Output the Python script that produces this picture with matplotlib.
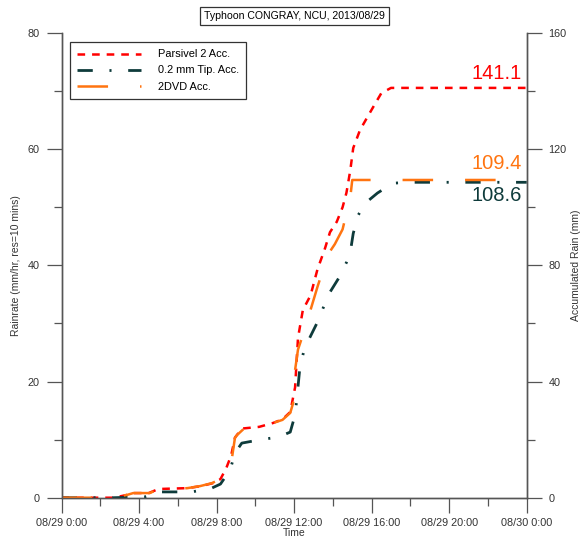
import matplotlib
matplotlib.use("Agg")
import matplotlib.pyplot as plt
from matplotlib.ticker import MultipleLocator, FixedLocator

plt.rcParams["font.family"] = ["Liberation Sans", "DejaVu Sans"]
plt.rcParams["lines.scale_dashes"] = False

# accumulated rain (mm) vs hour of 2013/08/29
parsivel_hr = [0, 2.7, 3.4, 3.7, 4.5, 5.0, 6.5, 7.2, 7.8, 8.2, 8.5, 8.75, 8.95, 9.3,
               10.2, 10.9, 11.4, 11.8, 12.05, 12.2, 12.45, 12.85, 13.2, 13.6, 13.85,
               14.2, 14.5, 14.7, 14.9, 15.05, 15.4, 15.75, 16.2, 16.5, 17.0, 24.0]
parsivel_mm = [0, 0, 1.0, 1.6, 1.6, 3.0, 3.3, 4.0, 5.0, 6.4, 10.2, 14.5, 20.7, 23.8,
               24.4, 25.7, 27.0, 29.5, 38.0, 55.0, 64.6, 69.7, 78.5, 86.0, 91.4,
               95.0, 100.0, 105.0, 112.8, 120.4, 126.6, 130.7, 135.9, 139.3, 141.1, 141.1]

tip_hr = [0, 2.7, 4.3, 5.0, 5.9, 6.7, 7.65, 8.2, 8.7, 8.95, 9.3, 10.2, 11.2, 11.8,
          12.05, 12.15, 12.3, 12.55, 12.8, 13.2, 13.6, 13.75, 14.3, 14.7, 14.9,
          15.05, 15.3, 15.65, 16.3, 17.1, 18.0, 24.0]
tip_mm = [0, 0, 0.3, 2.0, 2.0, 2.0, 3.0, 4.7, 9.6, 15.4, 18.8, 19.9, 20.9, 22.6,
          28.5, 34.7, 45.0, 51.8, 55.0, 60.4, 67.0, 69.7, 75.6, 81.0, 84.6,
          91.0, 97.2, 101.3, 104.9, 108.3, 108.6, 108.6]

dvd_hr = [0, 2.7, 3.4, 3.7, 4.55, 4.9, 6.5, 7.15, 7.75, 8.2, 8.5, 8.8, 8.95, 9.06,
          9.4, 10.2, 10.9, 11.4, 11.8, 11.95, 12.05, 12.2, 12.5, 12.8, 13.2, 13.75,
          14.1, 14.5, 14.9, 15.0, 24.0]
dvd_mm = [0, 0, 1.0, 1.6, 1.6, 2.65, 3.3, 4.0, 5.0, 6.4, 10.2, 14.0, 20.7, 21.6,
          23.7, 24.4, 25.7, 26.8, 29.2, 32.6, 44.0, 51.0, 57.0, 63.6, 72.5, 83.8,
          87.3, 92.4, 103.5, 109.4, 109.4]

totals = {"Parsivel 2": 141.1, "2DVD": 109.4, "Tip": 108.6}
xtick_labels = ["08/29 0:00", "08/29 4:00", "08/29 8:00", "08/29 12:00",
                "08/29 16:00", "08/29 20:00", "08/30 0:00"]

RED = "#ff0000"
TEAL = "#0e3b3b"
ORANGE = "#ff7410"
AXC = "#555555"
TXT = "#333333"

fig = plt.figure(figsize=(5.82, 5.43), dpi=100)
ax = fig.add_axes([0.1057, 0.0834, 0.7993, 0.8558])
ax2 = ax.twinx()

ax2.plot(parsivel_hr, parsivel_mm, color=RED, lw=1.8, dashes=(5.5, 5),
         label="Parsivel 2 Acc.")
ax2.plot(tip_hr, tip_mm, color=TEAL, lw=2.0, dashes=(11, 12, 1.5, 12),
         label="0.2 mm Tip. Acc.")
ax2.plot(dvd_hr, dvd_mm, color=ORANGE, lw=1.8, dashes=(22, 23),
         label="2DVD Acc.")

ax.set_xlim(0, 24)
ax.set_ylim(0, 80)
ax2.set_ylim(0, 160)

ax.xaxis.set_major_locator(FixedLocator([0, 4, 8, 12, 16, 20, 24]))
ax.set_xticklabels(xtick_labels)
ax.xaxis.set_minor_locator(MultipleLocator(2))
ax.yaxis.set_major_locator(MultipleLocator(20))
ax.yaxis.set_minor_locator(MultipleLocator(10))
ax2.yaxis.set_major_locator(MultipleLocator(40))
ax2.yaxis.set_minor_locator(MultipleLocator(20))

for a in (ax, ax2):
    a.spines["top"].set_visible(False)
    for s in a.spines.values():
        s.set_color(AXC)
        s.set_linewidth(1.0)
    a.tick_params(which="major", length=10.8, width=0.9, color=AXC,
                  labelsize=7.8, labelcolor=TXT, direction="out")
    a.tick_params(which="minor", length=5.8, width=0.9, color=AXC, direction="out")
ax.tick_params(axis="y", pad=5)
ax.tick_params(axis="x", pad=4)
ax2.tick_params(axis="y", pad=5)

ax.set_ylabel("Rainrate (mm/hr, res=10 mins)", fontsize=7.5, color=TXT, labelpad=5)
ax2.set_ylabel("Accumulated Rain (mm)", fontsize=7.5, color=TXT, labelpad=3)
ax.set_xlabel("Time", fontsize=7.5, color=TXT, labelpad=0)

ax.set_title("Typhoon CONGRAY, NCU, 2013/08/29", fontsize=7.6, pad=10,
             bbox=dict(facecolor="white", edgecolor=TXT, lw=0.9, pad=3))

ax2.text(23.76, 142.8, f"{totals['Parsivel 2']:.1f}", color=RED, fontsize=14.5,
         ha="right", va="bottom")
ax2.text(23.76, 111.8, f"{totals['2DVD']:.1f}", color=ORANGE, fontsize=14.5,
         ha="right", va="bottom")
ax2.text(23.76, 107.2, f"{totals['Tip']:.1f}", color=TEAL, fontsize=14.5,
         ha="right", va="top")

leg = ax2.legend(loc="upper left", bbox_to_anchor=(0.006, 0.993), fontsize=7.9,
                 handlelength=5.8, handletextpad=1.5, labelspacing=0.55,
                 borderpad=0.7, fancybox=False, framealpha=1)
leg.get_frame().set_edgecolor(TXT)
leg.get_frame().set_linewidth(0.9)

fig.savefig("out.png", dpi=100)
